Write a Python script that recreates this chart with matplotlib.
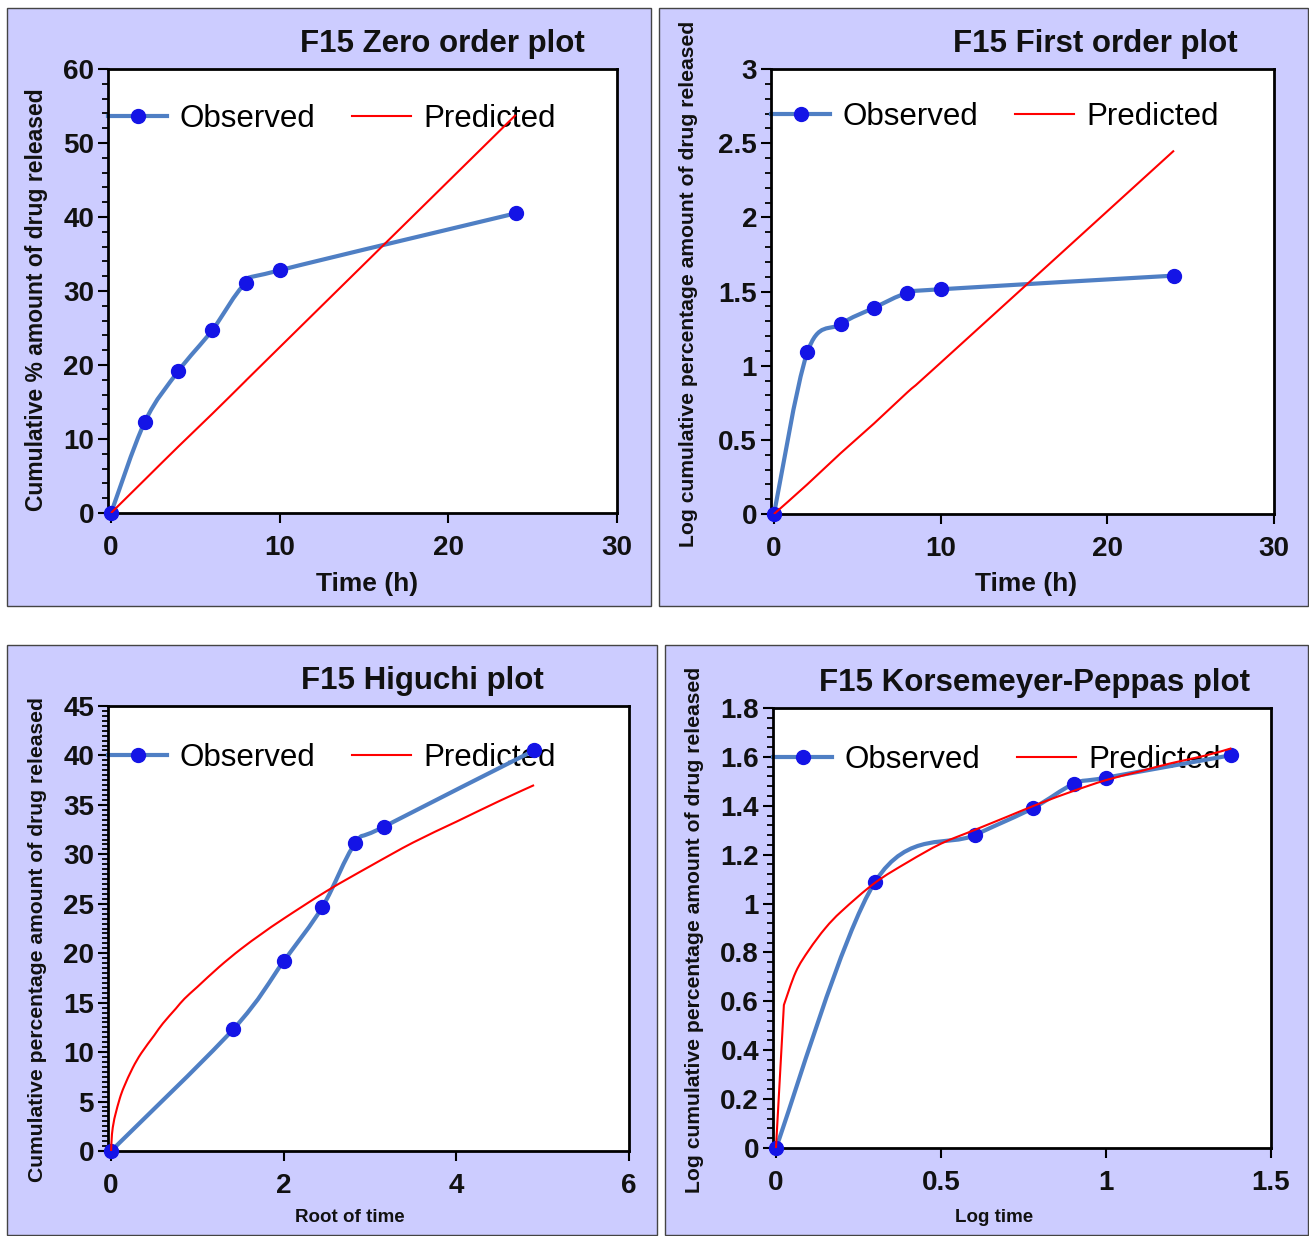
import numpy as np
import matplotlib
matplotlib.use("Agg")
from matplotlib import pyplot as plt
from matplotlib.path import Path
from matplotlib.patches import PathPatch, Rectangle
from matplotlib.lines import Line2D
from matplotlib.ticker import MultipleLocator, FuncFormatter

plt.rcParams['font.family'] = ['Liberation Sans', 'DejaVu Sans']

# sampling times (h) and derived x values
time_h = [0, 2, 4, 6, 8, 10, 24]
root_time = [0, 1.414, 2.0, 2.449, 2.828, 3.162, 4.899]
log_time = [0, 0.301, 0.602, 0.778, 0.903, 1.0, 1.380]

# observed release
cum_release = [0, 12.3, 19.2, 24.7, 31.1, 32.8, 40.5]
log_release = [0, 1.09, 1.28, 1.39, 1.49, 1.515, 1.607]

# predicted lines
zero_pred = [0, 4.5, 9.0, 13.4, 17.9, 22.4, 53.8]
first_pred = [0, 0.20, 0.41, 0.61, 0.82, 1.02, 2.45]
higuchi_x = [0, 0.01, 0.03, 0.05, 0.1, 0.15, 0.25, 0.35, 0.5, 0.6, 0.75, 0.85, 1.0, 1.25,
             1.5, 1.75, 2.0, 2.5, 3.0, 3.5, 4.0, 4.5, 4.9]
higuchi_pred = [0, 1.7, 2.9, 3.7, 5.3, 6.5, 8.4, 9.9, 11.7, 12.9, 14.4, 15.4, 16.6, 18.6,
                20.4, 22.0, 23.5, 26.3, 28.8, 31.2, 33.3, 35.4, 37.0]
kp_x = [0, 0.024, 0.06, 0.1, 0.15, 0.2, 0.3, 0.4, 0.5, 0.6, 0.7, 0.8, 0.9, 1.0, 1.1, 1.2, 1.3, 1.38]
kp_pred = [0, 0.585, 0.72, 0.81, 0.90, 0.97, 1.085, 1.17, 1.245, 1.30, 1.355, 1.41, 1.46, 1.505,
           1.54, 1.575, 1.605, 1.635]

line_blue = '#4f7fc4'
dot_blue = '#1414e6'
red = '#ff0000'
panel_bg = '#ccccff'

W, H = 1309, 1236
fig = plt.figure(figsize=(W / 100, H / 100), dpi=100)


def px_rect(x0, y0, x1, y1):
    return [x0 / W, 1 - y1 / H, (x1 - x0) / W, (y1 - y0) / H]


def smooth_path(x, y, corner=False):
    # excel style smoothed line: bezier through the points
    # corner=True keeps the first segment straight (sharp kink after it)
    pts = np.column_stack([x, y]).astype(float)
    n = len(pts)
    verts = [pts[0]]
    codes = [Path.MOVETO]
    start = 0
    if corner:
        verts.append(pts[1])
        codes.append(Path.LINETO)
        start = 1
    for i in range(start, n - 1):
        p0 = pts[i - 1] if i > start else pts[i]
        p1 = pts[i]
        p2 = pts[i + 1]
        p3 = pts[i + 2] if i + 2 < n else pts[i + 1]
        verts += [p1 + (p2 - p0) / 6, p2 - (p3 - p1) / 6, p2]
        codes += [Path.CURVE4] * 3
    return Path(verts, codes)


panels = [
    dict(box=(7, 8, 651, 606), ax=(108, 69, 617, 513), title='F15 Zero order plot', tx=0.656,
         ylab='Cumulative % amount of drug released', ypos=(37, 300), ysize=16.5,
         xlab='Time (h)', xpos=(367, 584), xsize=19,
         x=time_h, obs=cum_release, px=time_h, pred=zero_pred, corner=False,
         xlim=30, xmaj=10, ylim=60, ymaj=10, ymin=2, leg=0.887),
    dict(box=(659, 8, 1308, 606), ax=(771, 69, 1274, 514), title='F15 First order plot', tx=0.644,
         ylab='Log cumulative percentage amount of drug released', ypos=(689, 284), ysize=15.2,
         xlab='Time (h)', xpos=(1026, 584), xsize=19,
         x=time_h, obs=log_release, px=time_h, pred=first_pred, corner=False,
         xlim=30, xmaj=10, ylim=3, ymaj=0.5, ymin=0.1, leg=0.892),
    dict(box=(7, 645, 657, 1235), ax=(108, 706, 629, 1151), title='F15 Higuchi plot', tx=0.604,
         ylab='Cumulative percentage amount of drug released', ypos=(38, 940), ysize=15.2,
         xlab='Root of time', xpos=(350, 1218), xsize=13.5,
         x=root_time, obs=cum_release, px=higuchi_x, pred=higuchi_pred, corner=False,
         xlim=6, xmaj=2, ylim=45, ymaj=5, ymin=0.5, leg=0.883),
    dict(box=(665, 645, 1308, 1235), ax=(773, 708, 1271, 1148), title='F15 Korsemeyer-Peppas plot', tx=0.526,
         ylab='Log cumulative percentage amount of drug released', ypos=(695, 930), ysize=15.2,
         xlab='Log time', xpos=(994, 1217), xsize=13.5,
         x=log_time, obs=log_release, px=kp_x, pred=kp_pred, corner=True,
         xlim=1.5, xmaj=0.5, ylim=1.8, ymaj=0.2, ymin=0.04, leg=0.882),
]

for p in panels:
    x0, y0, x1, y1 = p['box']
    fig.add_artist(Rectangle((x0 / W, 1 - y1 / H), (x1 - x0) / W, (y1 - y0) / H,
                             transform=fig.transFigure, facecolor=panel_bg,
                             edgecolor='#444444', lw=1, zorder=-1))
    ax = fig.add_axes(px_rect(*p['ax']))
    ax.set_facecolor('white')

    ax.add_patch(PathPatch(smooth_path(p['x'], p['obs']), fill=False,
                           edgecolor=line_blue, lw=3, zorder=3, clip_on=False))
    ax.plot(p['x'], p['obs'], 'o', color=dot_blue, ms=10, zorder=4, clip_on=False)
    ax.add_patch(PathPatch(smooth_path(p['px'], p['pred'], p['corner']), fill=False,
                           edgecolor=red, lw=1.5, zorder=5))

    ax.set_xlim(-p['xlim'] * 0.006, p['xlim'])
    ax.set_ylim(0, p['ylim'])
    ax.xaxis.set_major_locator(MultipleLocator(p['xmaj']))
    ax.yaxis.set_major_locator(MultipleLocator(p['ymaj']))
    ax.yaxis.set_minor_locator(MultipleLocator(p['ymin']))
    fmt = FuncFormatter(lambda v, pos: f'{v:g}')
    ax.xaxis.set_major_formatter(fmt)
    ax.yaxis.set_major_formatter(fmt)
    ax.tick_params(axis='both', which='major', direction='out', length=7, width=1.5,
                   labelsize=20, color='black')
    ax.tick_params(axis='y', which='minor', direction='out', length=4, width=1.3)
    ax.tick_params(axis='x', which='major', pad=9)
    ax.tick_params(axis='y', which='major', pad=3)
    for lab in ax.get_xticklabels() + ax.get_yticklabels():
        lab.set_fontweight('bold')
        lab.set_color('#111111')
    for s in ax.spines.values():
        s.set_linewidth(2)
        s.set_color('black')

    ax.text(p['tx'], 1.057, p['title'], transform=ax.transAxes, ha='center', va='center',
            fontsize=22.5, fontweight='bold', color='#111111')
    fig.text(p['ypos'][0] / W, 1 - p['ypos'][1] / H, p['ylab'], rotation=90,
             ha='center', va='center', fontsize=p['ysize'], fontweight='bold', color='#111111')
    fig.text(p['xpos'][0] / W, 1 - p['xpos'][1] / H, p['xlab'],
             ha='center', va='center', fontsize=p['xsize'], fontweight='bold', color='#111111')

    handles = [Line2D([], [], color=line_blue, lw=3, marker='o', mfc=dot_blue,
                      mec=dot_blue, ms=10),
               Line2D([], [], color=red, lw=1.5)]
    leg = ax.legend(handles, ['Observed', 'Predicted'], loc='center left',
                    bbox_to_anchor=(0, p['leg']), ncol=2, frameon=False, borderpad=0,
                    borderaxespad=0, handlelength=1.9, handletextpad=0.4,
                    columnspacing=1.15, prop={'size': 22.5})
    leg.set_zorder(2)

fig.savefig('out.png', dpi=100)
